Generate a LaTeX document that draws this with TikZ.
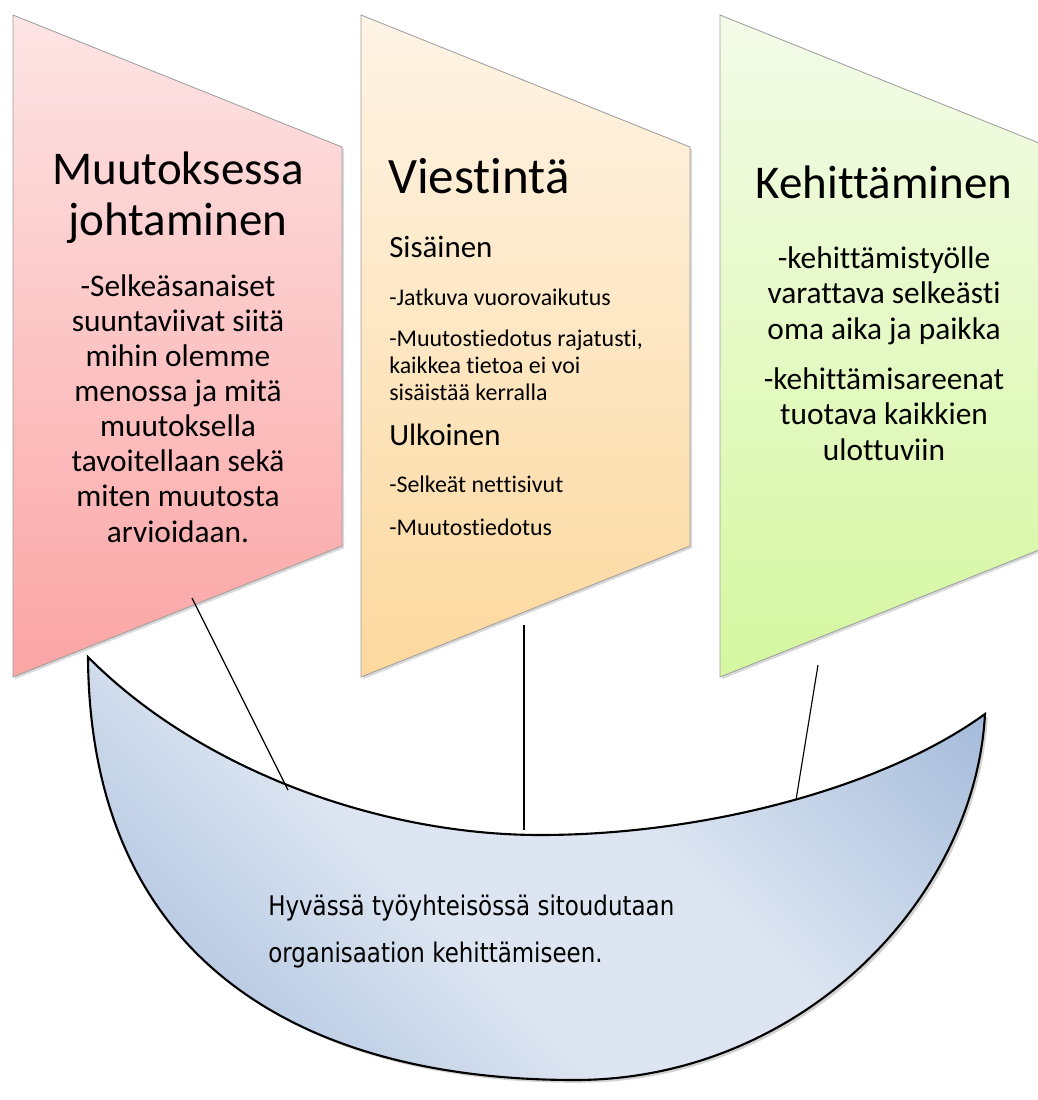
\documentclass[tikz,border=0pt]{standalone}
\usepackage{fontspec}
\setmainfont[Ligatures=NoCommon]{Carlito}
\newfontfamily\bowlfont[FakeStretch=0.85]{DejaVu Sans}
\usetikzlibrary{calc,shadows}
\definecolor{pinktop}{HTML}{FDE5E5}
\definecolor{pinkbot}{HTML}{FBA4A4}
\definecolor{orangetop}{HTML}{FEF4E6}
\definecolor{orangebot}{HTML}{FCD89D}
\definecolor{greentop}{HTML}{F4FBE9}
\definecolor{greenbot}{HTML}{D5F7A0}
\definecolor{bowllight}{HTML}{DCE5F1}
\definecolor{bowldark}{HTML}{A6BCDB}
\pgfdeclarehorizontalshading{bowlshade}{100bp}{%
  color(0bp)=(bowldark); color(18bp)=(bowldark); color(42bp)=(bowllight);
  color(58bp)=(bowllight); color(82bp)=(bowldark); color(100bp)=(bowldark)}
\tikzset{
  flag/.style={
    draw=black!38,
    line width=0.6pt,
    drop shadow={shadow xshift=1.5pt, shadow yshift=-1.5pt, opacity=0.3}
  },
  flaghead/.style={
    text=black,
    align=center,
    inner sep=0pt,
    font=\fontsize{33.4}{35.6}\selectfont
  },
  flagbody/.style={
    text=black,
    align=center,
    inner sep=0pt,
    font=\fontsize{22.3}{24.9}\selectfont
  },
  flagsub/.style={
    text=black,
    align=left,
    inner sep=0pt,
    font=\fontsize{22}{26}\selectfont
  },
  flagnote/.style={
    text=black,
    align=left,
    inner sep=0pt,
    font=\fontsize{17}{19.2}\selectfont
  },
  bowl/.style={
    draw=black,
    line width=1.5pt,
    shading=bowlshade,
    shading angle=45,
    drop shadow={shadow xshift=2pt, shadow yshift=-2pt, opacity=0.35}
  },
  bowltext/.style={
    text=black,
    align=left,
    inner sep=0pt,
    font=\bowlfont\fontsize{19.2}{33.4}\selectfont
  },
  link/.style={
    draw=black,
    line width=0.8pt
  }
}
\newcommand{\flagshape}[4]{%
  \coordinate (#1) at (#2,15);
  \path[flag, top color=#3, bottom color=#4]
    (#1) -- ++(329,132) -- ++(0,399) -- (#2,677) -- cycle;
}

\begin{document}
\begin{tikzpicture}[x=0.025cm, y=-0.025cm]
  \useasboundingbox (0,0) rectangle (1038,1100);
  \clip (0,0) rectangle (1038,1100);

  % --- the three flags ---
  \flagshape{johto}{13}{pinktop}{pinkbot}
  \flagshape{viesti}{361}{orangetop}{orangebot}
  \flagshape{kehitys}{720}{greentop}{greenbot}

  % --- Muutoksessa johtaminen (base = last line) ---
  \node[flaghead, anchor=base] (johto-head) at (178,235)
    {Muutoksessa\\johtaminen};
  \node[flagbody, anchor=base] (johto-body) at (178,542)
    {-Selkeäsanaiset\\suuntaviivat siitä\\mihin olemme\\menossa ja mitä\\muutoksella\\tavoitellaan sekä\\miten muutosta\\arvioidaan.};

  % --- Viestintä ---
  \node[flaghead, font=\fontsize{36.3}{38}\selectfont, anchor=base west]
    (viesti-head) at (388,193) {Viestintä};
  \node[flagsub, anchor=base west] (viesti-sis) at (389,257) {Sisäinen};
  \node[flagnote, anchor=base west] (viesti-sis1) at (389,305)
    {-Jatkuva vuorovaikutus};
  \node[flagnote, anchor=base west] (viesti-sis2) at (389,400)
    {-Muutostiedotus rajatusti,\\kaikkea tietoa ei voi\\sisäistää kerralla};
  \node[flagsub, anchor=base west] (viesti-ulk) at (389,445) {Ulkoinen};
  \node[flagnote, anchor=base west] (viesti-ulk1) at (389,492)
    {-Selkeät nettisivut};
  \node[flagnote, anchor=base west] (viesti-ulk2) at (389,535)
    {-Muutostiedotus};

  % --- Kehittäminen ---
  \node[flaghead, anchor=base] (kehitys-head) at (884,198) {Kehittäminen};
  \node[flagbody, anchor=base] (kehitys-body1) at (884,339)
    {-kehittämistyölle\\varattava selkeästi\\oma aika ja paikka};
  \node[flagbody, anchor=base] (kehitys-body2) at (884,460)
    {-kehittämisareenat\\tuotava kaikkien\\ulottuviin};

  % --- bowl ---
  \coordinate (bowl-l) at (88,657);
  \coordinate (bowl-r) at (985,714);
  \coordinate (bowl-mid) at (540,835);
  \coordinate (bowl-low) at (575,1080);
  \path[bowl] (bowl-l)
    .. controls (200,770) and (380,835) .. (bowl-mid)
    .. controls (700,835) and (880,790) .. (bowl-r)
    .. controls (975,900) and (800,1080) .. (bowl-low)
    .. controls (300,1080) and (90,960) .. (bowl-l) -- cycle;
  \node[bowltext, anchor=base west] (bowl-text) at (268,962)
    {Hyvässä työyhteisössä sitoudutaan\\organisaation kehittämiseen.};

  % --- links from flags to bowl ---
  \coordinate (johto-foot) at (192,598);
  \coordinate (viesti-foot) at (524,625);
  \coordinate (kehitys-foot) at (818,665);
  \coordinate (bowl-a) at (288,790);
  \coordinate (bowl-b) at (524,830);
  \coordinate (bowl-c) at (796,800);
  \draw[link] (johto-foot) -- (bowl-a);
  \draw[link] (viesti-foot) -- (bowl-b);
  \draw[link] (kehitys-foot) -- (bowl-c);

\end{tikzpicture}
\end{document}
